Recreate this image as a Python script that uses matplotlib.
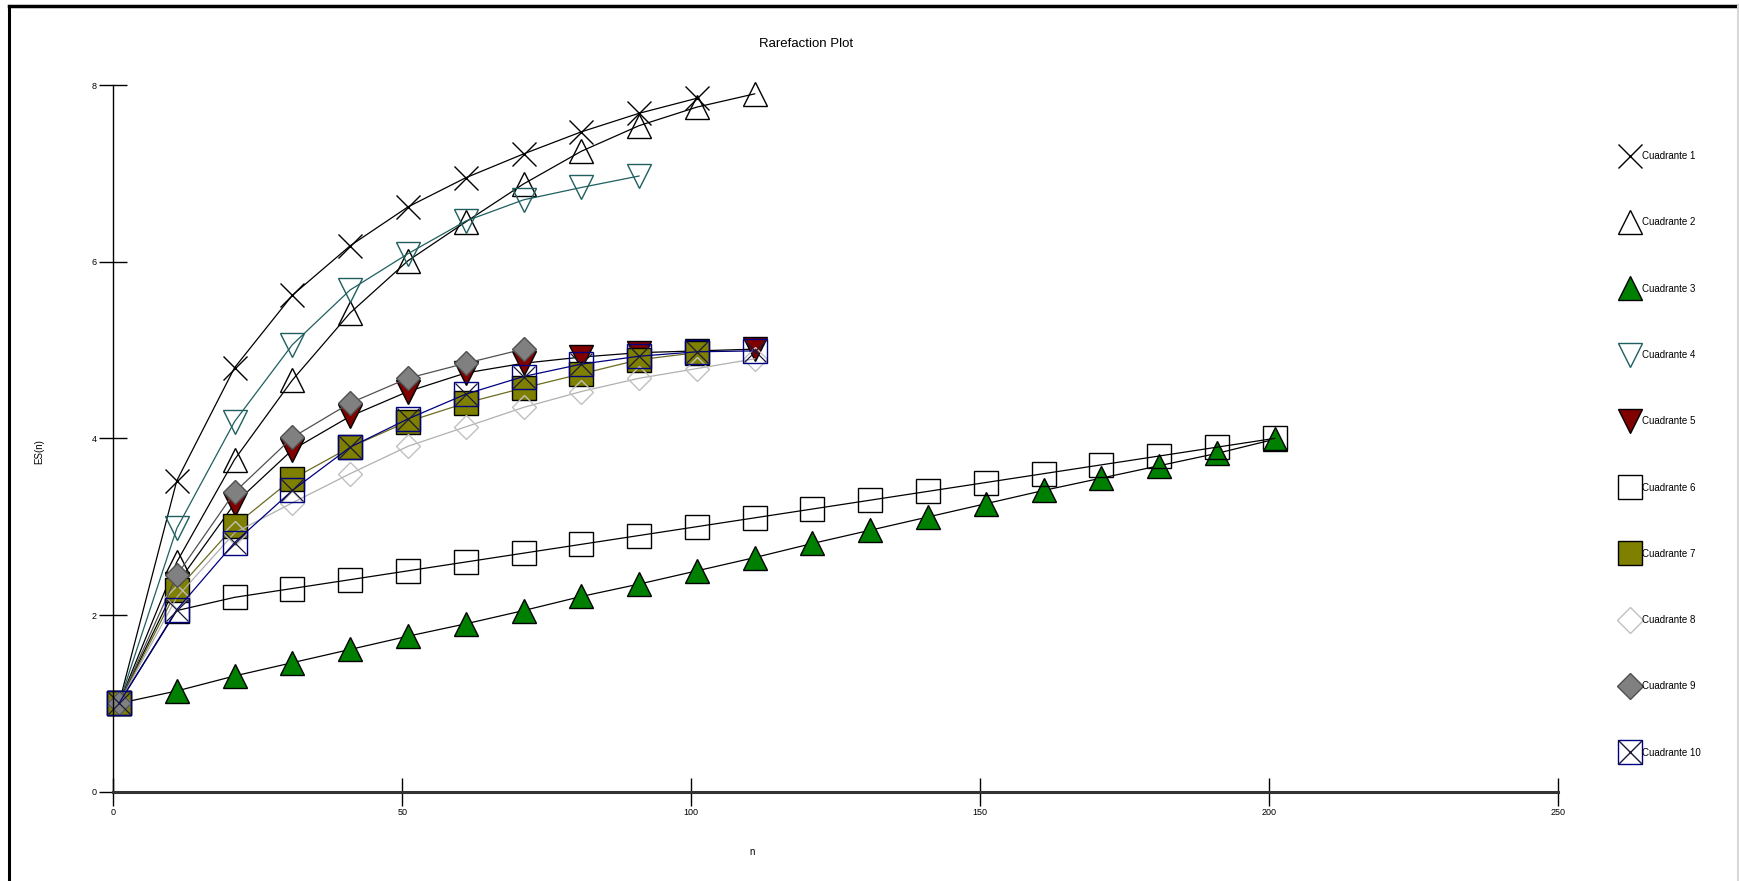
import numpy as np
import matplotlib
matplotlib.use('Agg')
import matplotlib.pyplot as plt
from matplotlib.lines import Line2D
from matplotlib.legend_handler import HandlerTuple

plt.rcParams['font.family'] = ['Liberation Sans', 'DejaVu Sans']

# sample sizes n (every 10 individuals, starting at 1)
n_long = np.arange(1, 202, 10)

# expected species ES(n) per quadrant
c1 = [1, 3.52, 4.80, 5.62, 6.18, 6.62, 6.95, 7.22, 7.47, 7.68, 7.85]
c2 = [1, 2.60, 3.76, 4.66, 5.42, 6.01, 6.45, 6.88, 7.25, 7.54, 7.75, 7.90]
c3 = [1, 1.14, 1.31, 1.46, 1.61, 1.76, 1.90, 2.05, 2.21, 2.35, 2.50,
      2.65, 2.81, 2.96, 3.11, 3.26, 3.41, 3.55, 3.69, 3.83, 3.99]
c4 = [1, 2.98, 4.19, 5.06, 5.68, 6.09, 6.46, 6.70, 6.84, 6.97]
c5 = [1, 2.35, 3.26, 3.87, 4.25, 4.53, 4.74, 4.85, 4.92, 4.97, 4.99, 5.01]
c6 = [1, 2.05, 2.20, 2.30, 2.40, 2.50, 2.60, 2.70, 2.80, 2.90, 3.00,
      3.10, 3.20, 3.30, 3.40, 3.50, 3.60, 3.70, 3.80, 3.90, 4.00]
c7 = [1, 2.28, 3.01, 3.54, 3.90, 4.19, 4.40, 4.57, 4.73, 4.89, 4.97]
c8 = [1, 2.20, 2.93, 3.27, 3.60, 3.91, 4.13, 4.35, 4.53, 4.68, 4.79, 4.90]
c9 = [1, 2.45, 3.39, 4.01, 4.40, 4.68, 4.85, 5.01]
c10 = [1, 2.06, 2.82, 3.41, 3.90, 4.22, 4.50, 4.70, 4.84, 4.93, 4.98, 4.99]

labels = ['Cuadrante %d' % i for i in range(1, 11)]
series = [c1, c2, c3, c4, c5, c6, c7, c8, c9, c10]

# style per quadrant: marker, face, edge, line colour
styles = [
    ('x', 'none', 'black', 'black'),
    ('^', 'none', 'black', 'black'),
    ('^', '#008000', 'black', 'black'),
    ('v', 'none', '#1f5f5f', '#1f5f5f'),
    ('v', '#800000', 'black', 'black'),
    ('s', 'none', 'black', 'black'),
    ('s', '#808000', 'black', '#6b6b20'),
    ('D', 'none', '#c0c0c0', '#b0b0b0'),
    ('D', '#808080', '#505050', '#505050'),
    ('s', 'none', '#000080', '#000080'),
]

fig = plt.figure(figsize=(17.39, 8.81), dpi=100)
ax = fig.add_axes([0.0651, 0.1014, 0.8308, 0.8021])

handles = []
for vals, (mk, fc, ec, lc), lab in zip(series, styles, labels):
    x = n_long[:len(vals)]
    ms = 12.5 if mk == 'D' else 17.5
    ln, = ax.plot(x, vals, color=lc, lw=0.9, marker=mk, ms=ms,
                  mfc=fc, mec=ec, mew=1.0, clip_on=False)
    if lab == 'Cuadrante 10':
        cross, = ax.plot(x, vals, ls='none', marker='x', ms=16,
                         mec='#1a1a3a', mew=0.9, clip_on=False)
        handles.append((ln, cross))
    else:
        handles.append(ln)

leg_handles = []
for h in handles:
    if isinstance(h, tuple):
        leg_handles.append(tuple(Line2D([], [], ls='none', marker=p.get_marker(),
                                        ms=17, mfc=p.get_markerfacecolor(),
                                        mec=p.get_markeredgecolor(), mew=1.0)
                                 for p in h))
    else:
        leg_handles.append(Line2D([], [], ls='none', marker=h.get_marker(),
                                  ms=17 if h.get_marker() != 'D' else 13,
                                  mfc=h.get_markerfacecolor(),
                                  mec=h.get_markeredgecolor(), mew=1.0))

ax.legend(leg_handles, labels, loc='upper left', bbox_to_anchor=(0.930, 0.834),
          bbox_transform=fig.transFigure, frameon=False, fontsize=7,
          labelspacing=5.79, handlelength=1.6, handletextpad=0.45,
          borderpad=0, handler_map={tuple: HandlerTuple(ndivide=1, pad=0)})

ax.set_xlim(0, 250)
ax.set_ylim(0, 8)
ax.set_xticks([0, 50, 100, 150, 200, 250])
ax.set_yticks([0, 2, 4, 6, 8])
ax.spines['top'].set_visible(False)
ax.spines['right'].set_visible(False)
ax.spines['left'].set_linewidth(1.0)
ax.spines['bottom'].set_linewidth(2.2)
ax.spines['bottom'].set_color('#333333')
ax.tick_params(direction='inout', length=20, width=1.0, labelsize=6.5, pad=2)

fig.text(0.4635, 0.950, 'Rarefaction Plot', ha='center', va='center', fontsize=9.5)
fig.text(0.0225, 0.487, 'ES(n)', ha='center', va='center', rotation=90, fontsize=7)
fig.text(0.4325, 0.033, 'n', ha='center', va='center', fontsize=7)

# window frame around the picture
fig.add_artist(Line2D([0.0051, 0.0051], [0, 0.9934], color='black', lw=2.2,
                      transform=fig.transFigure))
fig.add_artist(Line2D([0.0051, 1.0], [0.9934, 0.9934], color='black', lw=2.5,
                      transform=fig.transFigure))
fig.add_artist(Line2D([0.9993, 0.9993], [0, 0.9934], color='#d8d8d8', lw=1.5,
                      transform=fig.transFigure))

fig.savefig('out.png', dpi=100)
